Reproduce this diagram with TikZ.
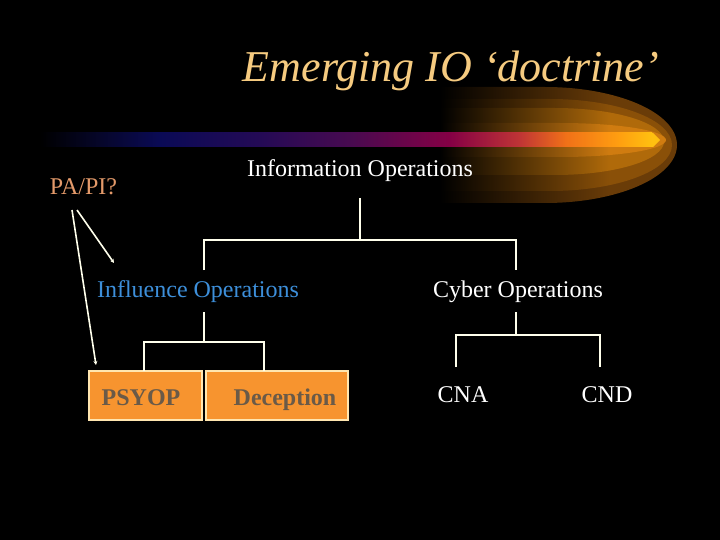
\documentclass[tikz,border=0pt]{standalone}
\usepackage{fontspec}
\setmainfont{Liberation Serif}
\usetikzlibrary{arrows.meta}
\definecolor{titlec}{HTML}{F6CB80}
\definecolor{papi}{HTML}{E49A6A}
\definecolor{inflc}{HTML}{3D8FDA}
\definecolor{linec}{HTML}{FFFFEC}
\definecolor{boxfill}{HTML}{F7942F}
\definecolor{boxedge}{HTML}{FFE6B0}
\definecolor{boxtext}{HTML}{6A5A48}
\definecolor{glowA}{HTML}{6A3C08}
\definecolor{glowB}{HTML}{8A5008}
\definecolor{glowC}{HTML}{B06A0A}
\definecolor{glowD}{HTML}{D07C10}
\definecolor{barA}{HTML}{06062A}
\definecolor{barB}{HTML}{0A0A55}
\definecolor{barC}{HTML}{240A55}
\definecolor{barD}{HTML}{480A50}
\definecolor{barE}{HTML}{850045}
\definecolor{barF}{HTML}{C03535}
\definecolor{barG}{HTML}{F07018}
\definecolor{barH}{HTML}{FFA010}
\definecolor{barI}{HTML}{FFC010}
\tikzset{
  conn/.style={draw=linec, line width=1.8pt},
  lbl/.style={font=\fontsize{24}{28}\selectfont, inner sep=0pt, anchor=base},
  boxr/.style={fill=boxfill, draw=boxedge, line width=2.5pt},
  arr/.style={draw=linec, line width=1.6pt, -{Stealth[length=4pt,width=4pt]}},
}
\begin{document}
\begin{tikzpicture}[x=1pt,y=-1pt]
\fill[black] (0,0) rectangle (720,540);
\useasboundingbox (0,0) rectangle (720,540);
% glow
\foreach \cx/\cy/\rx/\ry/\col in {545/145/132/58/glowA, 550/145/122/46/glowB, 555/141.5/109/33.5/glowC, 560/140/106/17/glowD}{
  \begin{scope}
    \clip (430,\cy-\ry) -- (\cx,\cy-\ry) arc[start angle=-90, end angle=90, x radius=\rx, y radius=\ry] -- (430,\cy+\ry) -- cycle;
    \shade[left color=black, right color=\col] (440,80) rectangle (610,210);
    \fill[\col] (609.5,80) rectangle (700,210);
  \end{scope}
}
% bar
\shade[left color=black, right color=barA] (40,133) rectangle (100.5,147);
\shade[left color=barA, right color=barB] (100,133) rectangle (160.5,147);
\shade[left color=barB, right color=barC] (160,133) rectangle (260.5,147);
\shade[left color=barC, right color=barD] (260,133) rectangle (350.5,147);
\shade[left color=barD, right color=barE] (350,133) rectangle (450.5,147);
\shade[left color=barE, right color=barF] (450,133) rectangle (520.5,147);
\shade[left color=barF, right color=barG] (520,133) rectangle (565.5,147);
\shade[left color=barG, right color=barH] (565,133) rectangle (620.5,147);
\shade[left color=barH, right color=barI] (620,133) rectangle (652,147);
\fill[barI] (651.5,133) -- (653,133) -- (660,140) -- (653,147) -- (651.5,147) -- cycle;
% title
\node[inner sep=0pt, anchor=base, text=titlec, font=\fontsize{44}{50}\selectfont\itshape] (title) at (451,82) {Emerging IO ‘doctrine’};
% texts
\node[lbl, text=white] (io) at (360,177) {Information Operations};
\node[lbl, text=papi] (pa) at (83.5,195) {PA/PI?};
\node[lbl, text=inflc] (infl) at (198,297) {Influence Operations};
\node[lbl, text=white] (cyber) at (518,297) {Cyber Operations};
\node[lbl, text=white] (cna) at (463,402) {CNA};
\node[lbl, text=white] (cnd) at (607,402) {CND};
% boxes
\draw[boxr] (89,371) rectangle (202,420);
\draw[boxr] (206,371) rectangle (348,420);
\node[lbl, text=boxtext, font=\fontsize{24}{28}\selectfont\bfseries] (psyop) at (141,405) {PSYOP};
\node[lbl, text=boxtext, font=\fontsize{24}{28}\selectfont\bfseries] (decep) at (285,405) {Deception};
% tree connectors
\coordinate (ioB) at (360,198);
\coordinate (ioJ) at (360,240);
\coordinate (inflT) at (204,270);
\coordinate (cybT) at (516,270);
\draw[conn] (ioB) -- (ioJ);
\draw[conn] (inflT) -- (204,240) -- (516,240) -- (cybT);
\coordinate (inflB) at (204,312);
\coordinate (psyT) at (144,371);
\coordinate (decT) at (264,371);
\draw[conn] (inflB) -- (204,342);
\draw[conn] (psyT) -- (144,342) -- (264,342) -- (decT);
\coordinate (cybB) at (516,312);
\coordinate (cnaT) at (456,367);
\coordinate (cndT) at (600,367);
\draw[conn] (cybB) -- (516,335);
\draw[conn] (cnaT) -- (456,335) -- (600,335) -- (cndT);
% arrows from PA/PI?
\coordinate (paA) at (72,210);
\coordinate (paB) at (77,210);
\coordinate (psyTip) at (96,365);
\coordinate (inflTip) at (114,263);
\draw[arr] (paA) -- (psyTip);
\draw[arr] (paB) -- (inflTip);
\end{tikzpicture}
\end{document}
